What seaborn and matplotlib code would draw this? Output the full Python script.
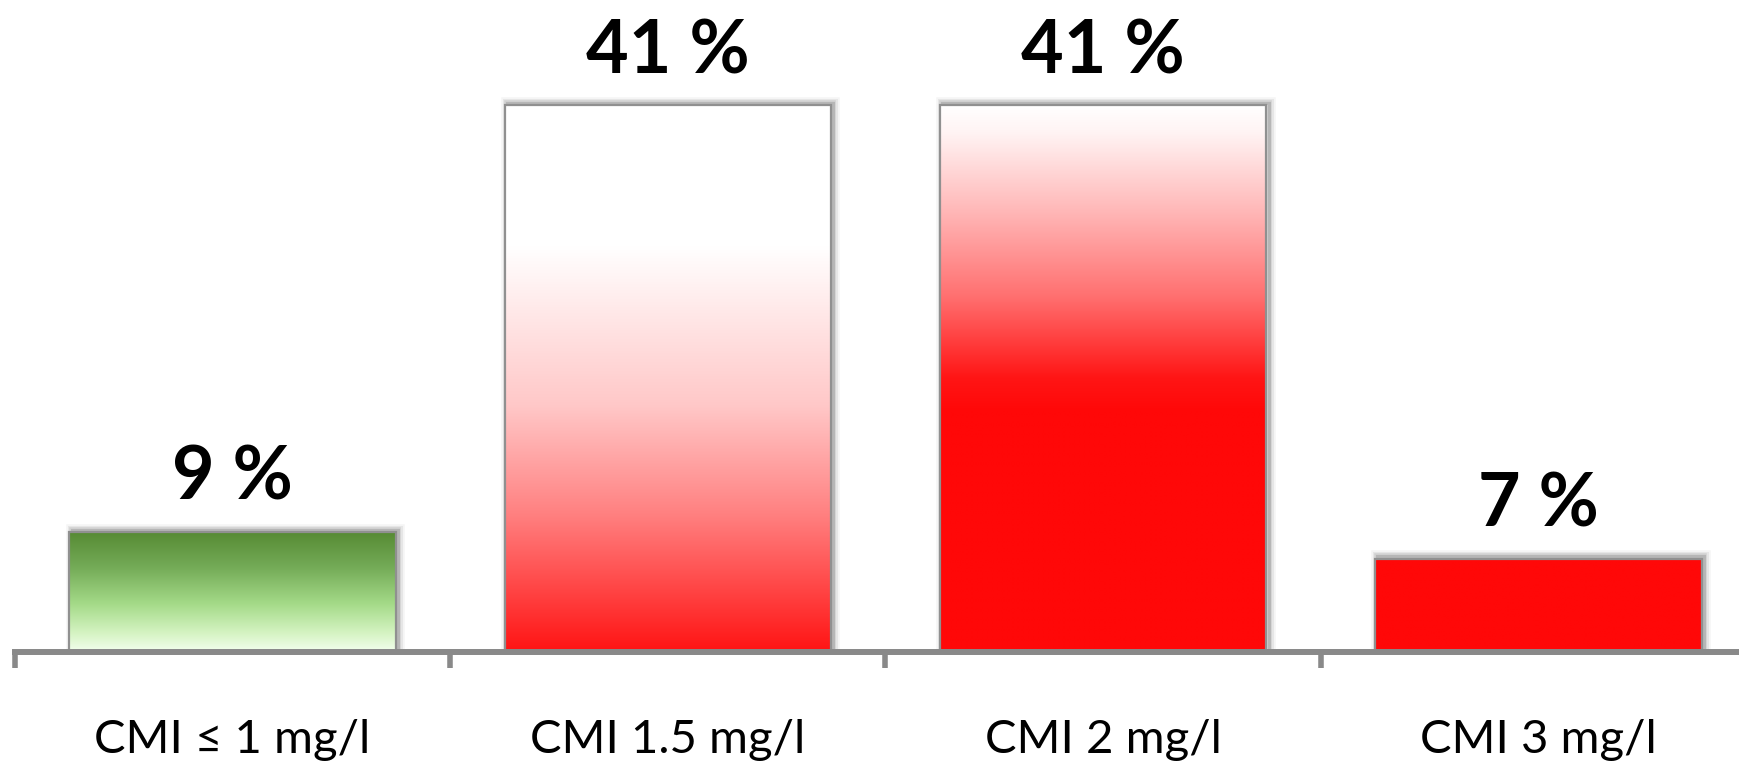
import numpy as np
import pandas as pd
import matplotlib
matplotlib.use("Agg")
import matplotlib.pyplot as plt
import matplotlib.transforms as mtransforms
from matplotlib.patches import Rectangle
from matplotlib.colors import to_rgb
import seaborn as sns

categories = ["CMI ≤ 1 mg/l", "CMI 1.5 mg/l", "CMI 2 mg/l", "CMI 3 mg/l"]
shares = [9, 41, 41, 7]
value_labels = [f"{v} %" for v in shares]

# vertical fill gradients, one per bar: (fraction from top, colour)
gradients = [
    [(0.0, "#568a33"), (0.3, "#74ab57"), (0.6, "#a4da88"), (0.85, "#d6f4c4"), (1.0, "#f3ffee")],
    [(0.0, "#ffffff"), (0.26, "#ffffff"), (0.55, "#ffc8c8"), (0.75, "#ff8080"), (1.0, "#ff1414")],
    [(0.0, "#ffffff"), (0.05, "#fff4f4"), (0.2, "#ffb5b5"), (0.35, "#ff7070"),
     (0.5, "#ff1515"), (0.56, "#ff0808"), (1.0, "#ff0808")],
    [(0.0, "#ff0808"), (1.0, "#ff0808")],
]

sns.set_style("white")
plt.rcParams["font.family"] = ["Lato", "DejaVu Sans"]

df = pd.DataFrame({"category": categories, "share": shares})

fig = plt.figure(figsize=(17.4, 7.61), dpi=100)
ax = fig.add_axes([15 / 1740, 109 / 761, 1741 / 1740, 652 / 761])

sns.barplot(data=df, x="category", y="share", width=0.75, color="white", ax=ax)

ymax = 48.87
axis_grey = "#898989"


def gradient_image(stops, n=256):
    pos = np.array([s[0] for s in stops])
    cols = np.array([to_rgb(s[1]) for s in stops])
    t = np.linspace(0, 1, n)
    rgb = np.stack([np.interp(t, pos, cols[:, k]) for k in range(3)], axis=1)
    return rgb[:, None, :]


for patch, stops, label in zip(ax.patches, gradients, value_labels):
    x0 = patch.get_x()
    w = patch.get_width()
    h = patch.get_height()
    # soft drop shadow, pushed up and to the right
    shift = mtransforms.ScaledTranslation(1.6 / 72, 1.6 / 72, fig.dpi_scale_trans)
    for lw, a in [(9, 0.05), (6.5, 0.08), (4, 0.12), (2.2, 0.18)]:
        ax.add_patch(Rectangle((x0, 0), w, h, fill=False, edgecolor="#3c3c3c",
                               lw=lw, alpha=a, joinstyle="miter",
                               transform=ax.transData + shift, zorder=1.5))
    ax.imshow(gradient_image(stops), extent=[x0, x0 + w, 0, h], aspect="auto",
              interpolation="bilinear", zorder=2)
    patch.set_facecolor("none")
    patch.set_edgecolor("#909090")
    patch.set_linewidth(1.6)
    patch.set_zorder(2.2)
    ax.annotate(label, (x0 + w / 2, h), xytext=(0, 23), textcoords="offset points",
                ha="center", va="baseline", fontsize=53, fontweight="bold",
                color="black")

ax.set_xlim(-0.5, 3.5)
ax.set_ylim(0, ymax)
ax.set_xlabel("")
ax.set_ylabel("")
ax.set_yticks([])

for side in ["left", "right", "top"]:
    ax.spines[side].set_visible(False)
ax.spines["bottom"].set_color(axis_grey)
ax.spines["bottom"].set_linewidth(4.3)
ax.spines["bottom"].set_zorder(2.5)

ax.set_xticks(range(len(categories)))
ax.set_xticklabels(categories, fontsize=34, va="baseline", color="black")
ax.set_xticks(np.arange(-0.5, len(categories)), minor=True)
ax.tick_params(axis="x", which="major", length=0, pad=72.7)
ax.tick_params(axis="x", which="minor", length=11.5, width=4, color=axis_grey,
               direction="out", bottom=True)

fig.savefig("out.png", dpi=100, facecolor="white")
